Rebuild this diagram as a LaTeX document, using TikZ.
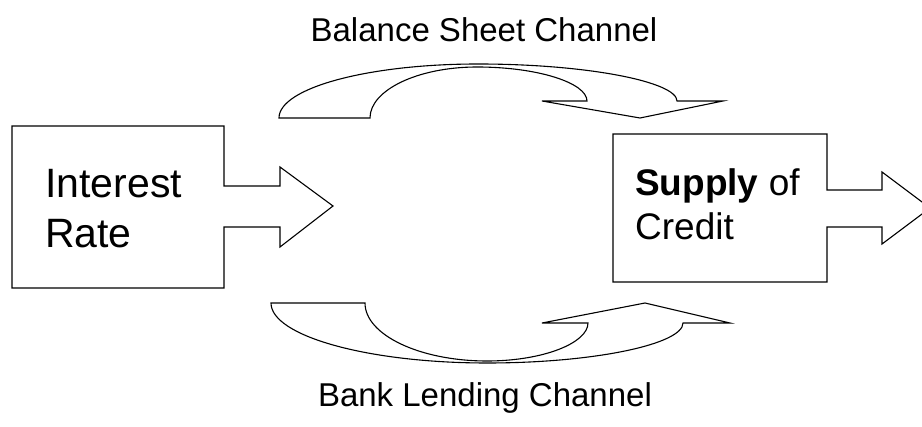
\documentclass[tikz,border=0pt]{standalone}
\usepackage{fontspec}
\setmainfont{Liberation Sans}
\begin{document}
\begin{tikzpicture}[x=1pt,y=-1pt,
  shapeline/.style={draw=black,line width=1.1pt,line join=miter,fill=white},
  boxtext/.style={inner sep=0pt,anchor=base west,font=\fontsize{41}{50}\selectfont},
  boxtextb/.style={inner sep=0pt,anchor=base west,font=\fontsize{37}{44}\selectfont},
  labeltext/.style={inner sep=0pt,anchor=base,font=\fontsize{33}{40}\selectfont}]
\useasboundingbox (0,0) rectangle (922,427);
\clip (0,0) rectangle (922,427);
\fill[white] (0,0) rectangle (922,427);

% Interest Rate box with arrow
\draw[shapeline] (12,126) -- (224,126) -- (224,186) -- (280,186) -- (280,167)
  -- (333,206) -- (280,247) -- (280,227) -- (224,227) -- (224,288) -- (12,288) -- cycle;
\node[boxtext] (ir1) at (45,198) {Interest};
\node[boxtext] (ir2) at (45,248) {Rate};

% Supply of Credit box with arrow
\draw[shapeline] (613,134) -- (827,134) -- (827,190) -- (882,190) -- (882,172)
  -- (930,208) -- (882,244) -- (882,227) -- (827,227) -- (827,282) -- (613,282) -- cycle;
\node[boxtextb] (sc1) at (635,196) {\textbf{Supply} of};
\node[boxtextb] (sc2) at (635,240) {Credit};

% Balance sheet channel curved arrow (top)
\draw[shapeline] (279,118) .. controls (279,88) and (368,64) .. (478,64)
  .. controls (588,64) and (677,82) .. (677,101)
  -- (723,101) -- (640,118) -- (542,101) -- (587,101)
  .. controls (587,83) and (538,67) .. (477,67)
  .. controls (418,67) and (370,90) .. (370,118) -- cycle;

% Bank lending channel curved arrow (bottom)
\draw[shapeline] (271,303) .. controls (271,336) and (368,363) .. (487,363)
  .. controls (595,363) and (683,344) .. (683,323)
  -- (730,323) -- (645,303) -- (542,323) -- (588,323)
  .. controls (588,343) and (543,361) .. (487,361)
  .. controls (420,361) and (365,335) .. (365,303) -- cycle;

% Labels
\node[labeltext] (bsc) at (484,42) {Balance Sheet Channel};
\node[labeltext] (blc) at (485,407) {Bank Lending Channel};
\end{tikzpicture}
\end{document}
